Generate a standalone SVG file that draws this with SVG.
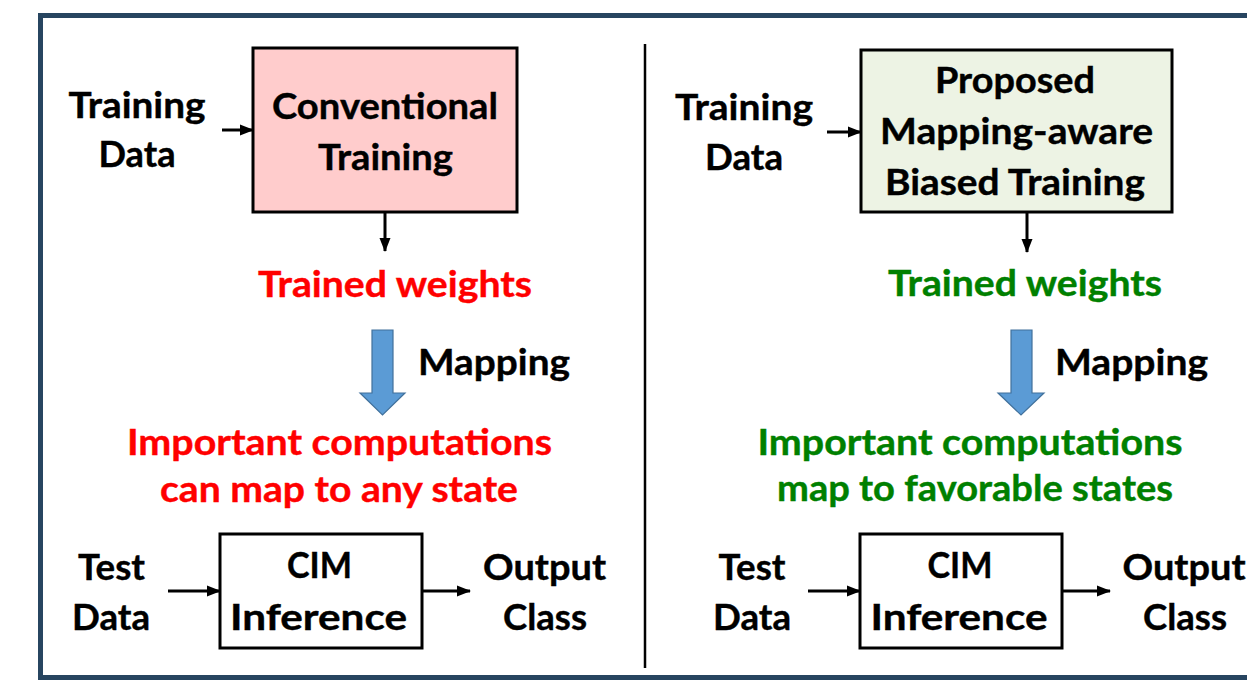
<svg xmlns="http://www.w3.org/2000/svg" width="1247" height="686" viewBox="0 0 1247 686">
  <style>
    text { font-family: Lato, "Open Sans", "Liberation Sans", sans-serif; font-weight: bold; font-size: 36px; text-anchor: middle; fill: #000; stroke: currentColor; stroke-width: 0.4px; }
    .blk { color: #000; }
    .red { fill: #FF0000; color: #FF0000; }
    .green { fill: #008000; color: #008000; }
    .box { stroke: #000; stroke-width: 3; }
    .link { stroke: #000; stroke-width: 3; fill: none; marker-end: url(#head); }
    .block { fill: #5B9BD5; stroke: #41719C; stroke-width: 1.2; }
  </style>
  <defs>
    <marker id="head" markerUnits="userSpaceOnUse" markerWidth="14" markerHeight="14" viewBox="0 0 14 14" refX="13" refY="7" orient="auto">
      <path d="M0,1.5 L14,7 L0,12.5 Z" fill="#000"/>
    </marker>
  </defs>

  <rect x="0" y="0" width="1247" height="686" fill="#fff"/>
  <!-- frame and divider -->
  <rect x="40.5" y="15.5" width="1230" height="662" fill="none" stroke="#274560" stroke-width="5"/>
  <line x1="645" y1="44" x2="645" y2="668" stroke="#000" stroke-width="2.5"/>

  <!-- connectors -->
  <g id="connectors">
    <line class="link" x1="222" y1="130" x2="253" y2="130"/>
    <line class="link" x1="385" y1="213" x2="385" y2="251"/>
    <path class="block" d="M372,330 H393 V393 H405 L382.5,415 L360,393 H372 Z"/>
    <line class="link" x1="168" y1="591" x2="220" y2="591"/>
    <line class="link" x1="422" y1="591" x2="470" y2="591"/>

    <line class="link" x1="827" y1="132" x2="861" y2="132"/>
    <line class="link" x1="1027" y1="213" x2="1027" y2="252"/>
    <path class="block" d="M1011,330 H1032 V393 H1044 L1021,415 L998,393 H1011 Z"/>
    <line class="link" x1="808" y1="591" x2="860" y2="591"/>
    <line class="link" x1="1062" y1="591" x2="1110" y2="591"/>
  </g>

  <!-- left column: conventional flow -->
  <g id="train-data-left" class="blk">
    <text x="137" y="118" textLength="137" lengthAdjust="spacingAndGlyphs">Training</text>
    <text x="137" y="167" textLength="77" lengthAdjust="spacingAndGlyphs">Data</text>
  </g>
  <g id="conventional-training" class="blk">
    <rect class="box" x="253" y="48" width="264" height="164" fill="#FFCCCC"/>
    <text x="385" y="119" textLength="226" lengthAdjust="spacingAndGlyphs">Conventional</text>
    <text x="385.5" y="170" textLength="135" lengthAdjust="spacingAndGlyphs">Training</text>
  </g>
  <g id="weights-left">
    <text class="red" x="395" y="297" textLength="274" lengthAdjust="spacingAndGlyphs">Trained weights</text>
  </g>
  <g id="mapping-left" class="blk">
    <text x="494" y="375" textLength="152" lengthAdjust="spacingAndGlyphs">Mapping</text>
  </g>
  <g id="result-left">
    <text class="red" x="339.5" y="455" textLength="425" lengthAdjust="spacingAndGlyphs">Important computations</text>
    <text class="red" x="339" y="502" textLength="358" lengthAdjust="spacingAndGlyphs">can map to any state</text>
  </g>
  <g id="test-data-left" class="blk">
    <text x="111.5" y="580" textLength="67" lengthAdjust="spacingAndGlyphs">Test</text>
    <text x="111" y="630" textLength="78" lengthAdjust="spacingAndGlyphs">Data</text>
  </g>
  <g id="cim-left" class="blk">
    <rect class="box" x="220" y="534" width="202" height="114" fill="#fff"/>
    <text x="319.5" y="578" textLength="65" lengthAdjust="spacingAndGlyphs">CIM</text>
    <text x="318.5" y="630" textLength="177" lengthAdjust="spacingAndGlyphs">Inference</text>
  </g>
  <g id="output-left" class="blk">
    <text x="544.5" y="580" textLength="123" lengthAdjust="spacingAndGlyphs">Output</text>
    <text x="545" y="630" textLength="84" lengthAdjust="spacingAndGlyphs">Class</text>
  </g>

  <!-- right column: proposed flow -->
  <g id="train-data-right" class="blk">
    <text x="744" y="120" textLength="138" lengthAdjust="spacingAndGlyphs">Training</text>
    <text x="744" y="170" textLength="78" lengthAdjust="spacingAndGlyphs">Data</text>
  </g>
  <g id="biased-training" class="blk">
    <rect class="box" x="861" y="50" width="311" height="162" fill="#EDF3E4"/>
    <text x="1015" y="93" textLength="160" lengthAdjust="spacingAndGlyphs">Proposed</text>
    <text x="1016.5" y="144" textLength="273" lengthAdjust="spacingAndGlyphs">Mapping-aware</text>
    <text x="1015" y="195" textLength="260" lengthAdjust="spacingAndGlyphs">Biased Training</text>
  </g>
  <g id="weights-right">
    <text class="green" x="1025" y="296" textLength="274" lengthAdjust="spacingAndGlyphs">Trained weights</text>
  </g>
  <g id="mapping-right" class="blk">
    <text x="1131.5" y="375" textLength="153" lengthAdjust="spacingAndGlyphs">Mapping</text>
  </g>
  <g id="result-right">
    <text class="green" x="970" y="455" textLength="425" lengthAdjust="spacingAndGlyphs">Important computations</text>
    <text class="green" x="975" y="501" textLength="396" lengthAdjust="spacingAndGlyphs">map to favorable states</text>
  </g>
  <g id="test-data-right" class="blk">
    <text x="752" y="580" textLength="67" lengthAdjust="spacingAndGlyphs">Test</text>
    <text x="752" y="630" textLength="78" lengthAdjust="spacingAndGlyphs">Data</text>
  </g>
  <g id="cim-right" class="blk">
    <rect class="box" x="860" y="534" width="202" height="114" fill="#fff"/>
    <text x="960" y="578" textLength="65" lengthAdjust="spacingAndGlyphs">CIM</text>
    <text x="959" y="630" textLength="177" lengthAdjust="spacingAndGlyphs">Inference</text>
  </g>
  <g id="output-right" class="blk">
    <text x="1184" y="580" textLength="123" lengthAdjust="spacingAndGlyphs">Output</text>
    <text x="1185" y="630" textLength="84" lengthAdjust="spacingAndGlyphs">Class</text>
  </g>
</svg>
